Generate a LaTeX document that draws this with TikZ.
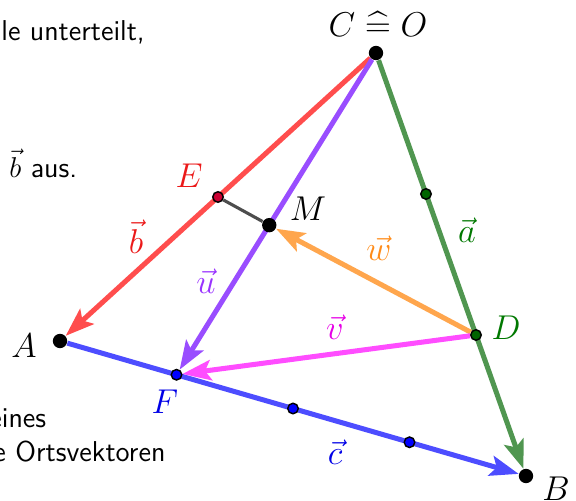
\documentclass[tikz,border=0pt]{standalone}
\usepackage{amsmath}
\usepackage{amssymb}
\usetikzlibrary{arrows.meta, calc, backgrounds}

\definecolor{linered}{RGB}{255,77,77}
\definecolor{textred}{RGB}{235,25,25}
\definecolor{linegreen}{RGB}{80,150,80}
\definecolor{textgreen}{RGB}{0,120,0}
\definecolor{dotgreen}{RGB}{0,100,0}
\definecolor{lineblue}{RGB}{77,77,255}
\definecolor{textblue}{RGB}{0,0,230}
\definecolor{linepurple}{RGB}{153,77,255}
\definecolor{textpurple}{RGB}{153,51,255}
\definecolor{lineorange}{RGB}{255,166,77}
\definecolor{textorange}{RGB}{255,140,26}
\definecolor{linemagenta}{RGB}{255,77,255}
\definecolor{textmagenta}{RGB}{230,0,230}
\definecolor{linegray}{RGB}{77,77,77}
\definecolor{dotcrimson}{RGB}{204,0,51}

\begin{document}
\begin{tikzpicture}[x=0.0147cm, y=-0.0147cm,
    vec/.style={line width=2.1pt, -{Stealth[length=12pt, width=8.5pt, inset=2.5pt]}},
    bigdot/.style={circle, fill=black, inner sep=0pt, minimum size=6pt},
    smalldot/.style={circle, draw=black, line width=0.6pt, inner sep=0pt, minimum size=4.4pt},
    lbl/.style={font=\Large, inner sep=0pt},
    txt/.style={font=\sffamily\large, anchor=base west, inner sep=0pt}]
    \clip (0,0) rectangle (576,501);

    % Punkte des Dreiecks
    \coordinate (c) at (376,53);
    \coordinate (a) at (60,341);
    \coordinate (b) at (526,476);
    \node[bigdot] (C) at (c) {};
    \node[bigdot] (A) at (a) {};
    \node[bigdot] (B) at (b) {};

    % Teilpunkte
    \node[smalldot, fill=dotcrimson] (E) at ($(c)!0.5!(a)$) {};
    \node[smalldot, fill=dotgreen] (D1) at ($(c)!1/3!(b)$) {};
    \node[smalldot, fill=dotgreen] (D) at ($(c)!2/3!(b)$) {};
    \node[smalldot, fill=blue] (F) at ($(a)!0.25!(b)$) {};
    \node[smalldot, fill=blue] (F2) at ($(a)!0.5!(b)$) {};
    \node[smalldot, fill=blue] (F3) at ($(a)!0.75!(b)$) {};
    \node[bigdot] (M) at ($(c)!0.535!(F)$) {};

    % Vektoren
    \begin{scope}[on background layer]
        \draw[vec, linegreen] (C) -- (B);
        \draw[vec, linered] (C) -- (A);
        \draw[vec, lineblue] (A) -- (B);
        \draw[line width=1.3pt, linegray] (E) -- (M);
        \draw[vec, linepurple] (C) -- (F);
        \draw[vec, lineorange] (D) -- (M);
        \draw[vec, linemagenta] (D) -- (F);
    \end{scope}

    % Beschriftungen
    \node[lbl] (labCO) at (378,24) {$C \mathrel{\widehat{=}} O$};
    \node[lbl] (labA) at (24,346) {$A$};
    \node[lbl] (labB) at (556,489) {$B$};
    \node[lbl] (labM) at (308,209) {$M$};
    \node[lbl, textred] (labE) at (189,176) {$E$};
    \node[lbl, textgreen] (labD) at (506,328) {$D$};
    \node[lbl, textblue] (labF) at (165,402) {$F$};
    \node[lbl, textred] (labb) at (136,237) {$\vec{b}$};
    \node[lbl, textgreen] (laba) at (467,230) {$\vec{a}$};
    \node[lbl, textblue] (labc) at (335,452) {$\vec{c}$};
    \node[lbl, textpurple] (labu) at (206,281) {$\vec{u}$};
    \node[lbl, textmagenta] (labv) at (335,327) {$\vec{v}$};
    \node[lbl, textorange] (labw) at (379,248) {$\vec{w}$};

    % Textreste am Rand
    \node[txt] (t1) at (1,41) {le unterteilt,};
    \node[txt] (t2) at (9,177) {$\vec{b}$ aus.};
    \node[txt] (t3) at (-11,427) {eines};
    \node[txt] (t4) at (-7,461) {e Ortsvektoren};
\end{tikzpicture}
\end{document}
